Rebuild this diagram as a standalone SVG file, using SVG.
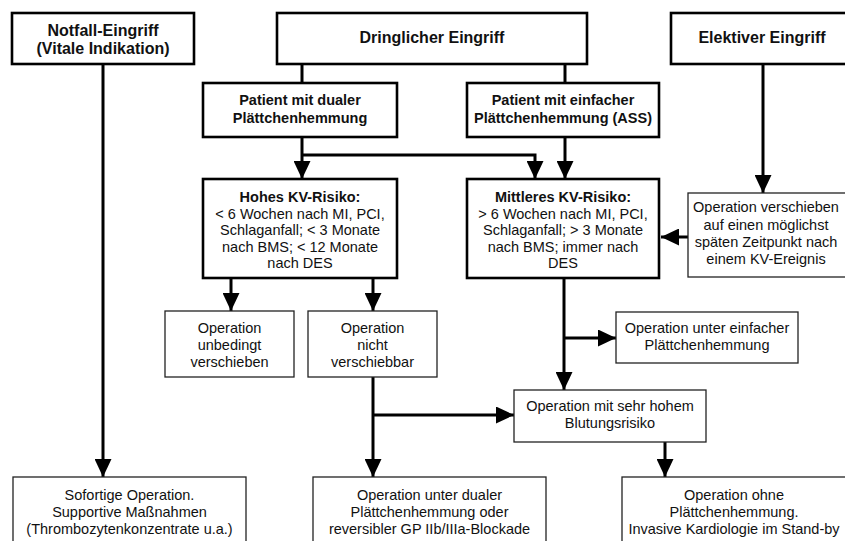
<svg xmlns="http://www.w3.org/2000/svg" width="845" height="541" viewBox="0 0 845 541">
<style>
.thick{fill:#fff;stroke:#000;stroke-width:2.6}
.thin{fill:#fff;stroke:#222;stroke-width:1.3}
text{font-family:"Liberation Sans",Arial,sans-serif;fill:#111;text-anchor:middle;font-size:14.5px}
.t{font-size:16px;font-weight:bold}
.b{font-weight:bold}
.c{fill:none;stroke:#000;stroke-width:3}
</style>
<defs>
<marker id="ah" markerUnits="userSpaceOnUse" markerWidth="18" markerHeight="17" refX="18" refY="8.5" orient="auto">
<path d="M0,0 L18,8.5 L0,17 z" fill="#000"/>
</marker>
</defs>
<rect width="845" height="541" fill="#fff"/>
<g id="connectors">
<path class="c" d="M103,64 V477" marker-end="url(#ah)"/>
<path class="c" d="M302,64 V83"/>
<path class="c" d="M565,64 V83"/>
<path class="c" d="M302,137 V179" marker-end="url(#ah)"/>
<path class="c" d="M302,155 H535 V179" marker-end="url(#ah)"/>
<path class="c" d="M565,137 V179" marker-end="url(#ah)"/>
<path class="c" d="M763,64 V193" marker-end="url(#ah)"/>
<path class="c" d="M688,237 H661" marker-end="url(#ah)"/>
<path class="c" d="M231,278 V311" marker-end="url(#ah)"/>
<path class="c" d="M373,278 V311" marker-end="url(#ah)"/>
<path class="c" d="M373,377 V477" marker-end="url(#ah)"/>
<path class="c" d="M373,415 H514" marker-end="url(#ah)"/>
<path class="c" d="M564,278 V390" marker-end="url(#ah)"/>
<path class="c" d="M564,338 H616" marker-end="url(#ah)"/>
<path class="c" d="M665,442 V477" marker-end="url(#ah)"/>
</g>
<g id="notfall">
<rect class="thick" x="12" y="13" width="182" height="51"/>
<text class="t" x="103" y="35.5">Notfall-Eingriff</text>
<text class="t" x="103" y="53.5">(Vitale Indikation)</text>
</g>
<g id="dringlich">
<rect class="thick" x="277" y="13" width="310" height="51"/>
<text class="t" x="432" y="43">Dringlicher Eingriff</text>
</g>
<g id="elektiv">
<rect class="thick" x="671" y="13" width="180" height="51"/>
<text class="t" x="762" y="43">Elektiver Eingriff</text>
</g>
<g id="dual">
<rect class="thick" x="203" y="83" width="194" height="54"/>
<text class="b" x="300" y="105">Patient mit dualer</text>
<text class="b" x="300" y="123">Plättchenhemmung</text>
</g>
<g id="einfach">
<rect class="thick" x="467" y="83" width="192" height="54"/>
<text class="b" x="563" y="105">Patient mit einfacher</text>
<text class="b" x="563" y="123">Plättchenhemmung (ASS)</text>
</g>
<g id="hohes">
<rect class="thick" x="203" y="179" width="194" height="99"/>
<text x="300" y="202"><tspan class="b">Hohes KV-Risiko:</tspan></text>
<text x="300" y="218.5">&lt; 6 Wochen nach MI, PCI,</text>
<text x="300" y="235">Schlaganfall; &lt; 3 Monate</text>
<text x="300" y="251.5">nach BMS; &lt; 12 Monate</text>
<text x="300" y="268">nach DES</text>
</g>
<g id="mittleres">
<rect class="thick" x="467" y="179" width="192" height="99"/>
<text x="563" y="202"><tspan class="b">Mittleres KV-Risiko:</tspan></text>
<text x="563" y="218.5">&gt; 6 Wochen nach MI, PCI,</text>
<text x="563" y="235">Schlaganfall; &gt; 3 Monate</text>
<text x="563" y="251.5">nach BMS; immer nach</text>
<text x="563" y="268">DES</text>
</g>
<g id="verschieben">
<rect class="thin" x="688" y="193" width="162" height="84"/>
<text x="766" y="212">Operation verschieben</text>
<text x="766" y="229.5">auf einen möglichst</text>
<text x="766" y="246.5">späten Zeitpunkt nach</text>
<text x="766" y="264">einem KV-Ereignis</text>
</g>
<g id="unbedingt">
<rect class="thin" x="165" y="311" width="129" height="66"/>
<text x="229.5" y="333">Operation</text>
<text x="229.5" y="350">unbedingt</text>
<text x="229.5" y="367">verschieben</text>
</g>
<g id="nicht">
<rect class="thin" x="308" y="311" width="129" height="66"/>
<text x="372.5" y="333">Operation</text>
<text x="372.5" y="350">nicht</text>
<text x="372.5" y="367">verschiebbar</text>
</g>
<g id="einfacher-op">
<rect class="thin" x="616" y="312" width="182" height="51"/>
<text x="707" y="333">Operation unter einfacher</text>
<text x="707" y="350">Plättchenhemmung</text>
</g>
<g id="blutung">
<rect class="thin" x="514" y="390" width="192" height="52"/>
<text x="610" y="411">Operation mit sehr hohem</text>
<text x="610" y="428">Blutungsrisiko</text>
</g>
<g id="sofort">
<rect class="thin" x="13" y="477" width="233" height="70"/>
<text x="129.5" y="500">Sofortige Operation.</text>
<text x="129.5" y="517">Supportive Maßnahmen</text>
<text x="129.5" y="533.5">(Thrombozytenkonzentrate u.a.)</text>
</g>
<g id="dual-op">
<rect class="thin" x="313" y="477" width="233" height="70"/>
<text x="429.5" y="500">Operation unter dualer</text>
<text x="429.5" y="517">Plättchenhemmung oder</text>
<text x="429.5" y="533.5">reversibler GP IIb/IIIa-Blockade</text>
</g>
<g id="ohne">
<rect class="thin" x="622" y="477" width="230" height="70"/>
<text x="734" y="500">Operation ohne</text>
<text x="734" y="517">Plättchenhemmung.</text>
<text x="734" y="533.5">Invasive Kardiologie im Stand-by</text>
</g>
</svg>
